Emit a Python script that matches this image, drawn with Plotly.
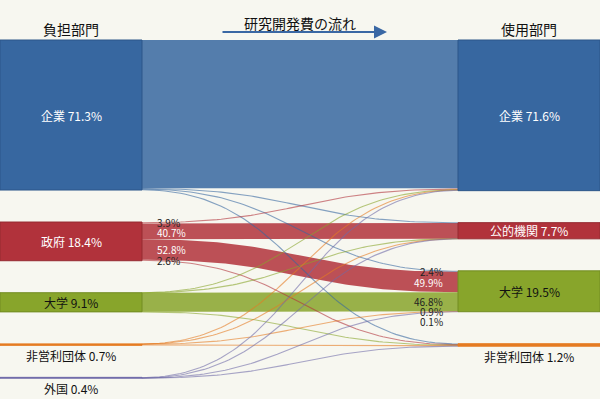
import numpy as np
import plotly.graph_objects as go

# ---------------- data ----------------
src_names = ["企業", "政府", "大学", "非営利団体", "外国"]
src_share = [71.3, 18.4, 9.1, 0.7, 0.4]
dst_names = ["企業", "公的機関", "大学", "非営利団体"]
dst_share = [71.6, 7.7, 19.5, 1.2]

# flows in % of total, one list per source, ordered by target (企業, 公的機関, 大学, 非営利団体)
flow_kigyo = [70.50, 0.12, 0.47, 0.21]
flow_seifu = [0.72, 7.49, 9.71, 0.48]
flow_daigaku = [0.01, 0.02, 9.06, 0.01]
flow_hieiri = [0.05, 0.03, 0.18, 0.44]
flow_gaikoku = [0.33, 0.02, 0.02, 0.03]
flows = [flow_kigyo, flow_seifu, flow_daigaku, flow_hieiri, flow_gaikoku]

# shares of 政府's funding by destination, and of 大学's use by source
seifu_out_pct = [3.9, 40.7, 52.8, 2.6]
daigaku_in_pct = [2.4, 49.9, 46.8, 0.9, 0.1]

header_left = "負担部門"
header_right = "使用部門"
title_text = "研究開発費の流れ"

# ---------------- style ----------------
W, H = 600, 399
BG = "#f7f7f0"
FONT = "Noto Sans CJK JP"
NODE_W = 142
TOP = 40
PAD = 32
K = 2.104  # px per percent
XL0, XL1 = 0, NODE_W
XR0, XR1 = W - NODE_W, W
src_colors = ["#3767a0", "#b1323b", "#88a52b", "#e57c23", "#6f6aa9"]
dst_colors = ["#3767a0", "#b1323b", "#88a52b", "#e57c23"]
src_border = ["#2c5689", "#952a31", "#728c22", "#d06a18", "#5e5a96"]
dst_border = ["#2c5689", "#952a31", "#728c22", "#d06a18"]
src_text = ["white", "white", "#111", "#111", "#111"]
dst_text = ["white", "white", "#111", "#111"]


def rgba(hexc, a):
    hexc = hexc.lstrip("#")
    r, g, b = int(hexc[0:2], 16), int(hexc[2:4], 16), int(hexc[4:6], 16)
    return f"rgba({r},{g},{b},{a})"


def bez(x0, y0, x1, y1, n=80):
    t = np.linspace(0, 1, n)
    xm = (x0 + x1) / 2
    x = (1 - t) ** 3 * x0 + 3 * (1 - t) ** 2 * t * xm + 3 * (1 - t) * t ** 2 * xm + t ** 3 * x1
    y = (1 - t) ** 3 * y0 + 3 * (1 - t) ** 2 * t * y0 + 3 * (1 - t) * t ** 2 * y1 + t ** 3 * y1
    return x, y


n_src, n_dst = len(src_names), len(dst_names)
src_val = [sum(r) for r in flows]
dst_val = [sum(flows[i][j] for i in range(n_src)) for j in range(n_dst)]

src_y0 = []
y = TOP
for v in src_val:
    src_y0.append(y)
    y += v * K + PAD
dst_y0 = []
y = TOP
for v in dst_val:
    dst_y0.append(y)
    y += v * K + PAD

fig = go.Figure()
bands, lines = [], []
s_off = list(src_y0)
d_off = list(dst_y0)
link_geo = {}
for i in range(n_src):
    for j in range(n_dst):
        v = flows[i][j]
        h = v * K
        sy, ty = s_off[i], d_off[j]
        s_off[i] += h
        d_off[j] += h
        link_geo[(i, j)] = (sy, ty, h)
        if h >= 2:
            xt, yt = bez(XL1, sy, XR0, ty)
            xb, yb = bez(XL1, sy + h, XR0, ty + h)
            bands.append(go.Scatter(
                x=np.concatenate([xt, xb[::-1]]), y=np.concatenate([yt, yb[::-1]]),
                fill="toself", fillcolor=rgba(src_colors[i], 0.85), mode="lines",
                line=dict(width=0), hoverinfo="skip"))
        else:
            xc, yc = bez(XL1, sy + h / 2, XR0, ty + h / 2)
            lines.append(go.Scatter(
                x=xc, y=yc, mode="lines",
                line=dict(width=1.1, color=rgba(src_colors[i], 0.6)), hoverinfo="skip"))
for tr in bands + lines:
    fig.add_trace(tr)


def add_node(x0, x1, y0, h, color, border):
    fig.add_trace(go.Scatter(
        x=[x0, x1, x1, x0, x0], y=[y0, y0, y0 + h, y0 + h, y0],
        fill="toself", fillcolor=color, mode="lines",
        line=dict(width=1, color=border if h > 3 else color), hoverinfo="skip"))


ann = []
for i in range(n_src):
    h = src_val[i] * K
    add_node(XL0, XL1, src_y0[i], h, src_colors[i], src_border[i])
    txt = f"{src_names[i]} {src_share[i]}%"
    if h > 14:
        ann.append(dict(x=(XL0 + XL1) / 2, y=src_y0[i] + h / 2, text=txt,
                        font=dict(size=12, color=src_text[i], family=FONT)))
    else:
        ann.append(dict(x=(XL0 + XL1) / 2, y=src_y0[i] + h + 10, text=txt,
                        font=dict(size=12, color="#111", family=FONT)))
for j in range(n_dst):
    h = dst_val[j] * K
    add_node(XR0, XR1, dst_y0[j], h, dst_colors[j], dst_border[j])
    txt = f"{dst_names[j]} {dst_share[j]}%"
    if h > 14:
        ann.append(dict(x=(XR0 + XR1) / 2, y=dst_y0[j] + h / 2, text=txt,
                        font=dict(size=12, color=dst_text[j], family=FONT)))
    else:
        ann.append(dict(x=(XR0 + XR1) / 2, y=dst_y0[j] + h + 10, text=txt,
                        font=dict(size=12, color="#111", family=FONT)))

# link percentage labels: 政府 outgoing (left side)
prev = -1e9
gi = src_names.index("政府")
for j in range(n_dst):
    sy, ty, h = link_geo[(gi, j)]
    yl = max(sy + h / 2, prev + 10)
    prev = yl
    col = "white" if h > 6 else "#222"
    ann.append(dict(x=XL1 + 13, y=yl, text=f"{seifu_out_pct[j]}%", xanchor="left",
                    font=dict(size=10, color=col, family=FONT)))
# 大学 incoming (right side)
prev = -1e9
di = dst_names.index("大学")
for i in range(n_src):
    sy, ty, h = link_geo[(i, di)]
    yl = max(ty + h / 2, prev + 10)
    prev = yl
    col = "white" if (h > 6 and i != src_names.index("大学")) else "#222"
    ann.append(dict(x=XR0 - 13, y=yl, text=f"{daigaku_in_pct[i]}%", xanchor="right",
                    font=dict(size=10, color=col, family=FONT)))

# headers and title
ann.append(dict(x=(XL0 + XL1) / 2, y=29, text=header_left, font=dict(size=14, color="#111", family=FONT)))
ann.append(dict(x=(XR0 + XR1) / 2, y=29, text=header_right, font=dict(size=14, color="#111", family=FONT)))
ann.append(dict(x=300, y=23, text=title_text, font=dict(size=14, color="#111", family=FONT)))
ann.append(dict(x=387, y=32, ax=221, ay=32, axref="x", ayref="y", text="", showarrow=True,
                arrowhead=2, arrowsize=1.3, arrowwidth=2, arrowcolor="#3a68a4"))

for a in ann:
    a.setdefault("showarrow", False)
    a.setdefault("xref", "x")
    a.setdefault("yref", "y")

fig.update_layout(
    width=W, height=H, margin=dict(l=0, r=0, t=0, b=0),
    paper_bgcolor=BG, plot_bgcolor=BG, showlegend=False,
    xaxis=dict(range=[0, W], visible=False, fixedrange=True),
    yaxis=dict(range=[H, 0], visible=False, fixedrange=True),
    annotations=ann,
)
fig.write_html("out.html", config={"displayModeBar": False},
               post_script="document.body.style.margin='0';document.body.style.overflow='hidden';")
